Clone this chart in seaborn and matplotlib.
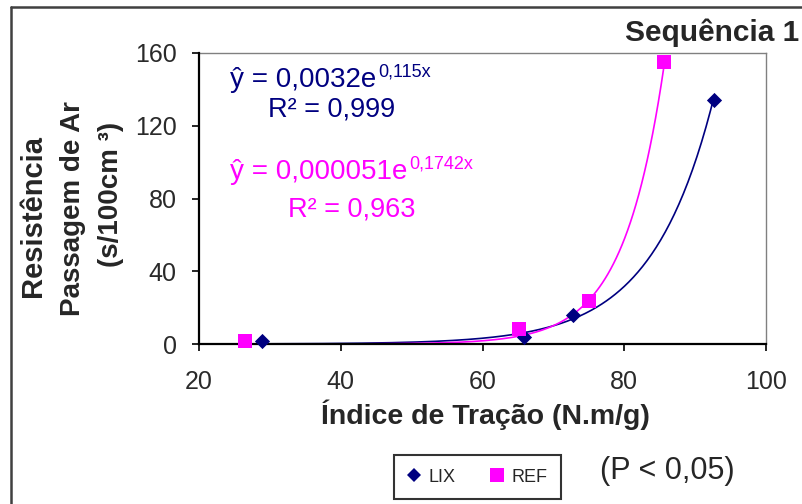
import numpy as np
import pandas as pd
import matplotlib
matplotlib.use("Agg")
import matplotlib.pyplot as plt
from matplotlib.lines import Line2D
import seaborn as sns

# Measured points: tensile index (N.m/g) vs. air resistance (s/100cm3)
lix_x = [28.9, 65.8, 72.7, 92.6]
lix_y = [1.6, 3.7, 16.0, 134.2]
ref_x = [26.5, 65.1, 75.0, 85.6]
ref_y = [1.8, 8.1, 23.6, 155.2]

# Exponential fits y = a * exp(b * x)
lix_a, lix_b = 0.0032, 0.115
ref_a, ref_b = 0.000051, 0.1742

x_ticks = [20, 40, 60, 80, 100]
y_ticks = [0, 40, 80, 120, 160]

NAVY = "#000080"
MAGENTA = "#FF00FF"

sns.set_style("white")
plt.rcParams["font.family"] = ["Liberation Sans", "DejaVu Sans"]

W, H = 802, 504
fig = plt.figure(figsize=(W / 100, H / 100), dpi=100)


def fx(px):
    return px / W


def fy(py):
    return 1 - py / H


ax = fig.add_axes([fx(199), fy(344), fx(766) - fx(199), fy(53) - fy(344)])

# trend curves over each series' x range
for xs, a, b, col in [(lix_x, lix_a, lix_b, NAVY), (ref_x, ref_a, ref_b, MAGENTA)]:
    grid = np.linspace(min(xs), max(xs), 300)
    sns.lineplot(x=grid, y=a * np.exp(b * grid), ax=ax, color=col, lw=1.2,
                 legend=False, zorder=2)

lix = pd.DataFrame({"x": lix_x, "y": lix_y})
ref = pd.DataFrame({"x": ref_x, "y": ref_y})
sns.scatterplot(data=lix, x="x", y="y", ax=ax, marker="D", s=60, color=NAVY,
                linewidth=0, label="LIX", zorder=4, clip_on=False)
sns.scatterplot(data=ref, x="x", y="y", ax=ax, marker="s", s=100, color=MAGENTA,
                linewidth=0, label="REF", zorder=4, clip_on=False)

ax.set_xlim(20, 100)
ax.set_ylim(0, 160)
ax.set_xticks(x_ticks)
ax.set_yticks(y_ticks)
ax.set_xlabel("")
ax.set_ylabel("")
ax.tick_params(axis="both", direction="out", length=5, width=1.2, color="black",
               labelsize=18, labelcolor="#2a2a2a")
ax.tick_params(axis="x", pad=14)
ax.tick_params(axis="y", pad=11)
ax.xaxis.set_ticks_position("bottom")
ax.yaxis.set_ticks_position("left")
for side in ["left", "bottom"]:
    ax.spines[side].set_color("black")
    ax.spines[side].set_linewidth(1.6)
    ax.spines[side].set_zorder(3)
for side in ["top", "right"]:
    ax.spines[side].set_color("#808080")
    ax.spines[side].set_linewidth(1.0)
    ax.spines[side].set_visible(True)

# fit equations with superscript exponents
fig.canvas.draw()
renderer = fig.canvas.get_renderer()


def equation(px, py, base, exp, color):
    t = fig.text(fx(px), fy(py), base, color=color, fontsize=20,
                 ha="left", va="center")
    bb = t.get_window_extent(renderer)
    fig.text(bb.x1 / W + 0.002, fy(py - 8), exp, color=color, fontsize=13,
             ha="left", va="center")


equation(230, 80, "ŷ = 0,0032e", "0,115x", NAVY)
fig.text(fx(268), fy(110), "R² = 0,999", color=NAVY, fontsize=19.5, ha="left", va="center")
equation(230, 172, "ŷ = 0,000051e", "0,1742x", MAGENTA)
fig.text(fx(288), fy(209), "R² = 0,963", color=MAGENTA, fontsize=19.5, ha="left", va="center")

# titles and axis labels
fig.text(fx(799), fy(41), "Sequência 1", fontsize=21.5, fontweight="bold",
         ha="right", va="baseline")
fig.text(fx(485), fy(415), "Índice de Tração (N.m/g)", fontsize=20.5,
         fontweight="bold", ha="center", va="center")
for cx, cy, line, size in [(33, 216, "Resistência", 21), (73, 209, "Passagem de Ar", 20),
                           (111, 194, "(s/100cm ³)", 20)]:
    fig.text(fx(cx), fy(cy), line, fontsize=size, fontweight="bold",
             rotation=90, ha="center", va="center")

fig.text(fx(667), fy(471), "(P < 0,05)", fontsize=22, ha="center", va="center")

# legend
handles = [
    Line2D([], [], marker="D", color=NAVY, ls="none", markersize=7.5, markeredgewidth=0),
    Line2D([], [], marker="s", color=MAGENTA, ls="none", markersize=10, markeredgewidth=0),
]
leg = ax.legend(handles, ["LIX", "REF"], loc="center", ncol=2,
                bbox_to_anchor=(fx(477.5), fy(477)), bbox_transform=fig.transFigure,
                fontsize=13, frameon=True, fancybox=False, edgecolor="black",
                handlelength=0.8, handletextpad=0.4, columnspacing=1.9,
                borderpad=0.75, borderaxespad=0)
leg.get_frame().set_linewidth(1.5)

# outer chart border (top and left)
fig.add_artist(Line2D([fx(11), 1], [fy(7), fy(7)], color="#404040", lw=1.8))
fig.add_artist(Line2D([fx(11), fx(11)], [fy(7), 0], color="#404040", lw=1.8))

fig.savefig("out.png", dpi=100)
